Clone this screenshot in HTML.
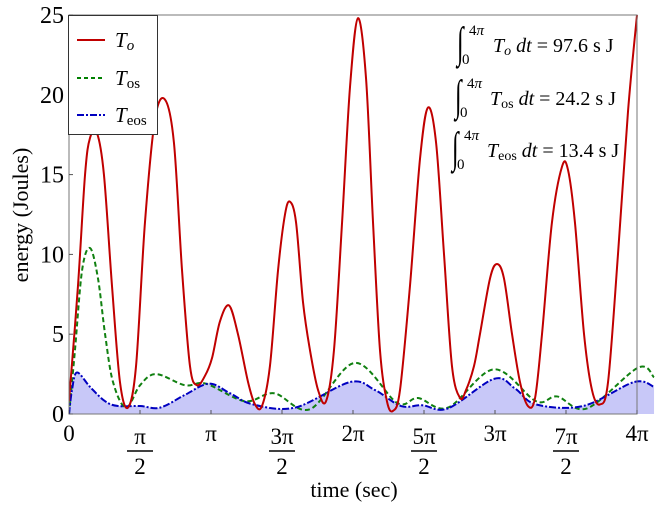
<!DOCTYPE html>
<html><head><meta charset="utf-8"><style>
body{margin:0;background:#fff;}
svg{display:block;font-family:"Liberation Serif",serif;}
</style></head><body>
<svg id="chart" width="663" height="508">
<defs><clipPath id="clipPlot"><rect x="69" y="15" width="590" height="399"/></clipPath></defs>
<g id="plot" clip-path="url(#clipPlot)"></g>
<rect x="69" y="15" width="568" height="399" fill="none" stroke="#777" stroke-width="1"/>
<g id="axes"></g>
<g>
<rect x="68.5" y="15.5" width="89" height="119" fill="#fff" stroke="#333" stroke-width="1"/>
<line x1="77" y1="40" x2="105" y2="40" stroke="#c00000" stroke-width="2"/>
<text x="115" y="47" font-size="21" font-style="italic">T<tspan font-size="15" dy="3">o</tspan></text>
<line x1="77" y1="78" x2="105" y2="78" stroke="#008000" stroke-width="2" stroke-dasharray="4,3"/>
<text x="115" y="85" font-size="21"><tspan font-style="italic">T</tspan><tspan font-size="15" dy="3">os</tspan></text>
<line x1="77" y1="115" x2="105" y2="115" stroke="#0000c0" stroke-width="2" stroke-dasharray="7,2,2,2"/>
<text x="115" y="122" font-size="21"><tspan font-style="italic">T</tspan><tspan font-size="15" dy="3">eos</tspan></text>
</g>
<g font-size="20" xml:space="preserve">
<g>
<text transform="translate(457,57) scale(0.8,1.45)" font-size="30">∫</text>
<text x="469" y="35" font-size="15">4<tspan font-style="italic">π</tspan></text>
<text x="462" y="64" font-size="15">0</text>
<text x="493" y="52"><tspan font-style="italic">T</tspan><tspan font-size="14" dy="3" font-style="italic">o</tspan><tspan dy="-3" font-style="italic"> dt</tspan>  =  97.6 s J</text>
</g>
<g>
<text transform="translate(455,110) scale(0.8,1.45)" font-size="30">∫</text>
<text x="467" y="88" font-size="15">4<tspan font-style="italic">π</tspan></text>
<text x="460" y="117" font-size="15">0</text>
<text x="490" y="105"><tspan font-style="italic">T</tspan><tspan font-size="14" dy="3">os</tspan><tspan dy="-3" font-style="italic"> dt</tspan>  =  24.2 s J</text>
</g>
<g>
<text transform="translate(452,162) scale(0.8,1.45)" font-size="30">∫</text>
<text x="464" y="140" font-size="15">4<tspan font-style="italic">π</tspan></text>
<text x="457" y="169" font-size="15">0</text>
<text x="487" y="157"><tspan font-style="italic">T</tspan><tspan font-size="14" dy="3">eos</tspan><tspan dy="-3" font-style="italic"> dt</tspan>  =  13.4 s J</text>
</g>
</g>
<text x="354" y="497" font-size="22" text-anchor="middle">time (sec)</text>
<text transform="translate(28,215) rotate(-90)" font-size="22" text-anchor="middle">energy (Joules)</text>
</svg>
<script>
// times in units of π
const toT=[0,.063,.113,.148,.197,.246,.303,.359,.415,.472,.535,.606,.676,.739,.796,.852,.901,.958,1.007,1.063,1.127,1.190,1.261,1.310,1.359,1.415,1.472,1.521,1.556,1.599,1.648,1.697,1.754,1.810,1.866,1.923,1.979,2.035,2.092,2.141,2.190,2.239,2.282,2.331,2.401,2.472,2.528,2.585,2.641,2.697,2.754,2.796,2.852,2.894,2.965,3.014,3.063,3.120,3.176,3.232,3.282,3.331,3.401,3.472,3.514,3.563,3.627,3.683,3.739,3.796,3.866,3.937,4.0];
const toV=[0.8,8,15,17.3,17.6,15,8,2,0.4,3,12,18.5,19.7,17,9,3,1.8,2.4,3.5,5.8,6.8,5,2,0.6,0.5,3,9,12.5,13.3,12,7,4,1.5,0.8,4,12,20.5,24.8,21,12,4,0.8,0.2,1.5,8,16,19.2,17,10,3,1,1.5,3,5,8.5,9.4,8.5,5,2,0.5,1,5,12,15.5,15.3,12,5,1.5,0.6,2,10,19,25];
const tosT=[0,.042,.092,.148,.204,.254,.310,.401,.5,.613,.817,.965,1.239,1.444,1.697,2.014,2.310,2.458,2.669,2.993,3.289,3.437,3.648,4.007,4.120];
const tosV=[0,4,9,10.4,8.5,5,2,0.4,1.8,2.5,1.8,1.9,0.8,1.3,0.3,3.2,0.7,1.0,0.4,2.8,0.8,1.1,0.35,2.9,2.3];
const teosT=[0,.021,.056,.148,.254,.345,.5,.641,.817,.986,1.134,1.296,1.592,1.979,2.155,2.338,2.486,2.669,2.993,3.141,3.289,3.620,3.979,4.120];
const teosV=[0,1.5,2.6,1.7,0.8,0.5,0.5,0.4,1.2,1.9,1.3,0.6,0.4,2.0,1.5,0.5,0.55,0.35,2.2,1.6,0.6,0.5,2.0,1.7];
const yTicks=[0,5,10,15,20,25];
const xTickNum=[0,1,2,3,4,5,6,7,8]; // multiples of π/2
const xTickLabels=["0","π/2","π","3π/2","2π","5π/2","3π","7π/2","4π"];

const X0=69,X1=637,Y0=414,Y1=15;
const xs=t=>X0+(t/4)*(X1-X0);
const ys=v=>Y0-(v/25)*(Y0-Y1);
const NS="http://www.w3.org/2000/svg";
function path(T,V){
  const p=T.map((t,i)=>[xs(t),ys(V[i])]);
  let d="M"+p[0][0]+","+p[0][1];
  for(let i=0;i<p.length-1;i++){
    const a=p[i-1]||p[i],b=p[i],c=p[i+1],e=p[i+2]||c;
    d+=` C${b[0]+(c[0]-a[0])/6},${b[1]+(c[1]-a[1])/6} ${c[0]-(e[0]-b[0])/6},${c[1]-(e[1]-b[1])/6} ${c[0]},${c[1]}`;
  }
  return d;
}
const plot=document.getElementById('plot');
function mk(tag,attrs){const el=document.createElementNS(NS,tag);for(const k in attrs)el.setAttribute(k,attrs[k]);return el;}
const fill=mk('path',{d:path(teosT,teosV)+` L${xs(teosT[teosT.length-1])},${Y0} L${X0},${Y0} Z`,fill:'#c8c8f8',stroke:'none'});


plot.appendChild(fill);
const lTos=mk('path',{d:path(tosT,tosV),fill:'none',stroke:'#108010','stroke-width':2,'stroke-dasharray':'5,3'});


plot.appendChild(lTos);
const lTeos=mk('path',{d:path(teosT,teosV),fill:'none',stroke:'#0000c0','stroke-width':2,'stroke-dasharray':'7,2,2,2'});


plot.appendChild(lTeos);
const lTo=mk('path',{d:path(toT,toV),fill:'none',stroke:'#c00000','stroke-width':2});


plot.appendChild(lTo);

const axes=document.getElementById('axes');
yTicks.forEach(v=>{
  const y=ys(v);
  const tk=mk('line',{x1:X0,x2:X0+4,y1:y,y2:y,stroke:'#555'});
  
  
  axes.appendChild(tk);
  const tx=mk('text',{x:X0-5,y:y+8,'font-size':24,'text-anchor':'end'});
  tx.textContent=v;
  
  
  axes.appendChild(tx);
});
xTickNum.forEach((n,i)=>{
  const x=xs(n/2);
  const tk=mk('line',{x1:x,x2:x,y1:Y0,y2:Y0-4,stroke:'#555'});
  
  
  axes.appendChild(tk);
  const lab=xTickLabels[i];
  if(lab.includes('/')){
    const [num,den]=lab.split('/');
    const g=mk('g',{});
    
    
    const t1=mk('text',{x:x,y:444,'font-size':23,'text-anchor':'middle'});t1.textContent=num;
    const ln=mk('line',{x1:x-13,x2:x+13,y1:451,y2:451,stroke:'#000','stroke-width':1.5});
    const t2=mk('text',{x:x,y:474,'font-size':23,'text-anchor':'middle'});t2.textContent=den;
    g.appendChild(t1);g.appendChild(ln);g.appendChild(t2);axes.appendChild(g);
  } else {
    const t=mk('text',{x:x,y:441,'font-size':23,'text-anchor':'middle'});
    t.textContent=lab;
    
    
    axes.appendChild(t);
  }
});
</script>
</body></html>
